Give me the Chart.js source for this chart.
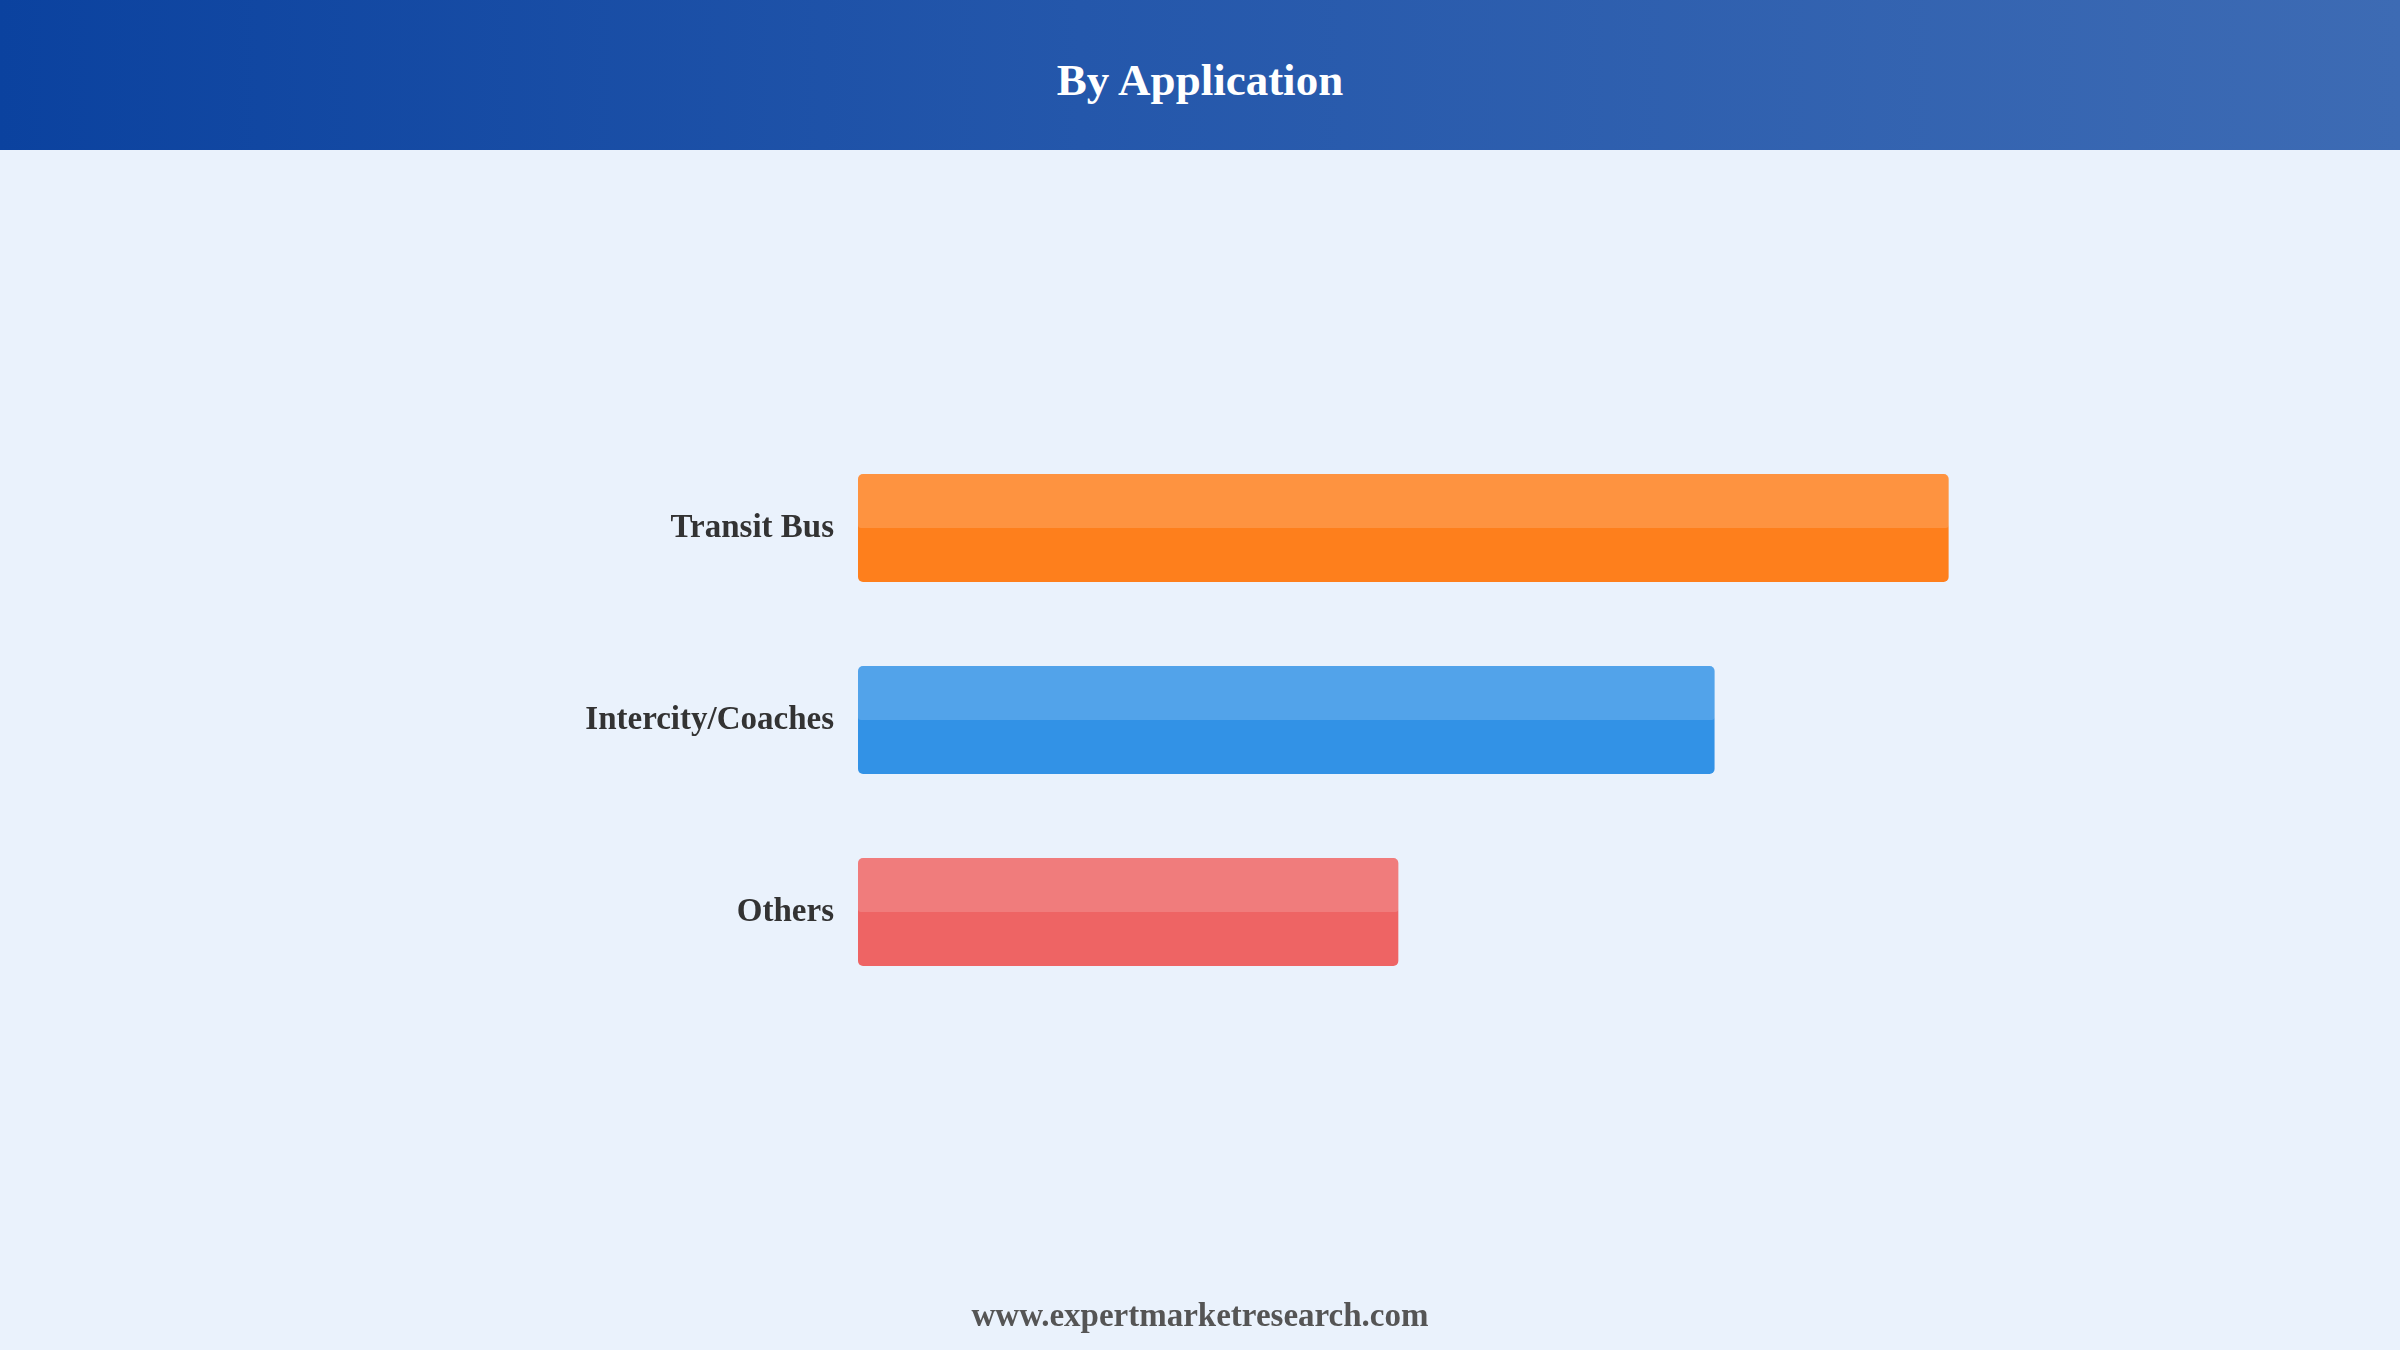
<!DOCTYPE html>
<html>
<head>
<meta charset="utf-8">
<title>By Application</title>
<script src="https://cdn.jsdelivr.net/npm/chart.js@4.4.1/dist/chart.umd.min.js"></script>
<style>
  html, body {
    margin: 0;
    padding: 0;
    width: 2400px;
    height: 1350px;
    overflow: hidden;
    background: #eaf2fc;
    font-family: "Liberation Serif", "Times New Roman", serif;
  }
  #chartBox {
    position: absolute;
    left: 0;
    top: 0;
    width: 2400px;
    height: 1350px;
  }
  #header {
    position: absolute;
    left: 0;
    top: 0;
    width: 2400px;
    height: 150px;
    background: linear-gradient(to right, #0b429f 0%, #2457ab 45%, #3d6bb4 100%);
  }
  #title {
    position: absolute;
    left: 0;
    top: 54px;
    width: 2400px;
    text-align: center;
    color: #ffffff;
    font-weight: bold;
    font-size: 45px;
  }
  #footer {
    position: absolute;
    left: 0;
    top: 1297px;
    width: 2400px;
    text-align: center;
    color: #555555;
    font-weight: bold;
    font-size: 33px;
  }
</style>
</head>
<body>
<div id="chartBox"><canvas id="myChart"></canvas></div>
<div id="header"><div id="title">By Application</div></div>
<div id="footer">www.expertmarketresearch.com</div>

<script>
// chart data
const categories = ['Transit Bus', 'Intercity/Coaches', 'Others'];
const shares = [43.8, 34.4, 21.7];
const barColors = ['#fe7f1c', '#3292e6', '#ee6464'];

// lighter band over the top half of each bar
const glossPlugin = {
  id: 'gloss',
  afterDatasetsDraw(chart) {
    const ctx = chart.ctx;
    chart.getDatasetMeta(0).data.forEach(function (bar) {
      const p = bar.getProps(['x', 'y', 'base', 'height'], true);
      const left = Math.min(p.x, p.base);
      const w = Math.abs(p.x - p.base);
      const top = p.y - p.height / 2;
      ctx.save();
      ctx.fillStyle = 'rgba(255,255,255,0.16)';
      ctx.beginPath();
      ctx.roundRect(left, top, w, p.height / 2, [5, 5, 3, 3]);
      ctx.fill();
      ctx.restore();
    });
  }
};

function drawChart() {
  let ctx = document.getElementById('myChart');
  let myChart = new Chart(ctx, {
    type: 'bar',
    data: {
      labels: categories,
      datasets: [{
        data: shares,
        backgroundColor: barColors,
        borderRadius: 5,
        borderSkipped: false,
        categoryPercentage: 1,
        barPercentage: 0.5625
      }]
    },
    plugins: [glossPlugin],
    options: {
      indexAxis: 'y',
      responsive: true,
      maintainAspectRatio: false,
      animation: false,
      layout: {
        padding: { left: 0, right: 297, top: 432, bottom: 342 }
      },
      plugins: {
        legend: { display: false },
        tooltip: { enabled: false },
        title: { display: false }
      },
      scales: {
        x: {
          display: false,
          min: 0,
          max: 50
        },
        y: {
          grid: { display: false },
          border: { display: false },
          afterFit: function (axis) {
            axis.width = 858;
          },
          ticks: {
            padding: 16,
            color: '#333333',
            font: { family: '"Liberation Serif", "Times New Roman", serif', size: 33, weight: 'bold' }
          }
        }
      }
    }
  });
}
drawChart();
</script>
</body>
</html>
